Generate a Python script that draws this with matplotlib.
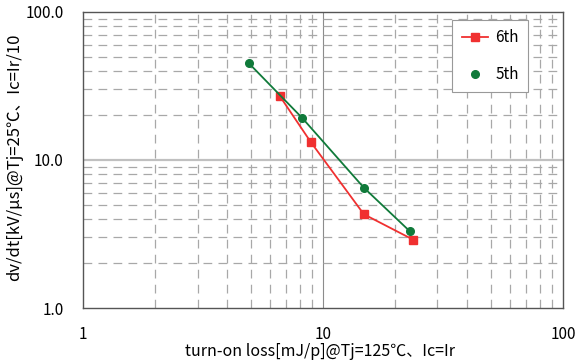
import numpy as np
import matplotlib.pyplot as plt
from matplotlib.lines import Line2D
from matplotlib.ticker import FixedLocator, NullFormatter

plt.rcParams['font.family'] = ['Noto Sans CJK JP', 'DejaVu Sans']

# 6th generation
loss_6th = [6.6, 8.9, 14.8, 23.7]
dvdt_6th = [27.1, 13.2, 4.3, 2.9]
# 5th generation
loss_5th = [4.9, 8.2, 14.8, 23.0]
dvdt_5th = [45.2, 19.2, 6.5, 3.3]

x_ticks = [1, 10, 100]
x_labels = ['1', '10', '100']
y_ticks = [1, 10, 100]
y_labels = ['1.0', '10.0', '100.0']

fig = plt.figure(figsize=(5.78, 3.63), dpi=100)
ax = fig.add_axes([0.1436, 0.1515, 0.8304, 0.8155])

ax.set_xscale('log')
ax.set_yscale('log')
ax.set_xlim(1, 100)
ax.set_ylim(1, 100)

# grid
minor = [m * d for d in (1, 10) for m in range(2, 10)]
ax.xaxis.set_minor_locator(FixedLocator(minor))
ax.yaxis.set_minor_locator(FixedLocator(minor))
ax.xaxis.set_minor_formatter(NullFormatter())
ax.yaxis.set_minor_formatter(NullFormatter())
ax.grid(True, which='minor', color='#a8a8a8', lw=0.9, ls=(0, (7, 5)))
ax.axvline(10, color='#8c8c8c', lw=0.8, zorder=1)
ax.axhline(10, color='#c0c0c0', lw=1.6, zorder=1)

ax.plot(loss_6th, dvdt_6th, color='#f03030', marker='s', ms=6, lw=1.3, zorder=3)
ax.plot(loss_5th, dvdt_5th, color='#107a3a', marker='o', ms=5.5, lw=1.3, zorder=3)

ax.set_xticks(x_ticks)
ax.set_xticklabels(x_labels)
ax.set_yticks(y_ticks)
ax.set_yticklabels(y_labels)
ax.tick_params(which='both', length=0)
ax.tick_params(axis='x', pad=13, labelsize=11)
ax.tick_params(axis='y', pad=14, labelsize=11)

for s in ax.spines.values():
    s.set_color('#555555')
    s.set_linewidth(1.0)

fig.text(320 / 578, 1 - 352 / 363, 'turn-on loss[mJ/p]@Tj=125℃、Ic=Ir',
         fontsize=11.5, ha='center', va='center')
fig.text(15 / 578, 1 - 157 / 363, 'dv/dt[kV/μs]@Tj=25℃、Ic=Ir/10',
         fontsize=12, ha='center', va='center', rotation=90)

handles = [Line2D([], [], color='#f03030', marker='s', ms=6, lw=1.3),
           Line2D([], [], color='#107a3a', marker='o', ms=5.5, lw=0)]
leg = ax.legend(handles, ['6th', '5th'], loc='upper right',
                bbox_to_anchor=(0.927, 0.973), borderaxespad=0, fontsize=11,
                fancybox=False, framealpha=1, edgecolor='#999999',
                labelspacing=1.3, borderpad=0.6, handlelength=1.7,
                handletextpad=0.5)
leg.get_frame().set_linewidth(0.8)

fig.savefig('out.png', dpi=100)
